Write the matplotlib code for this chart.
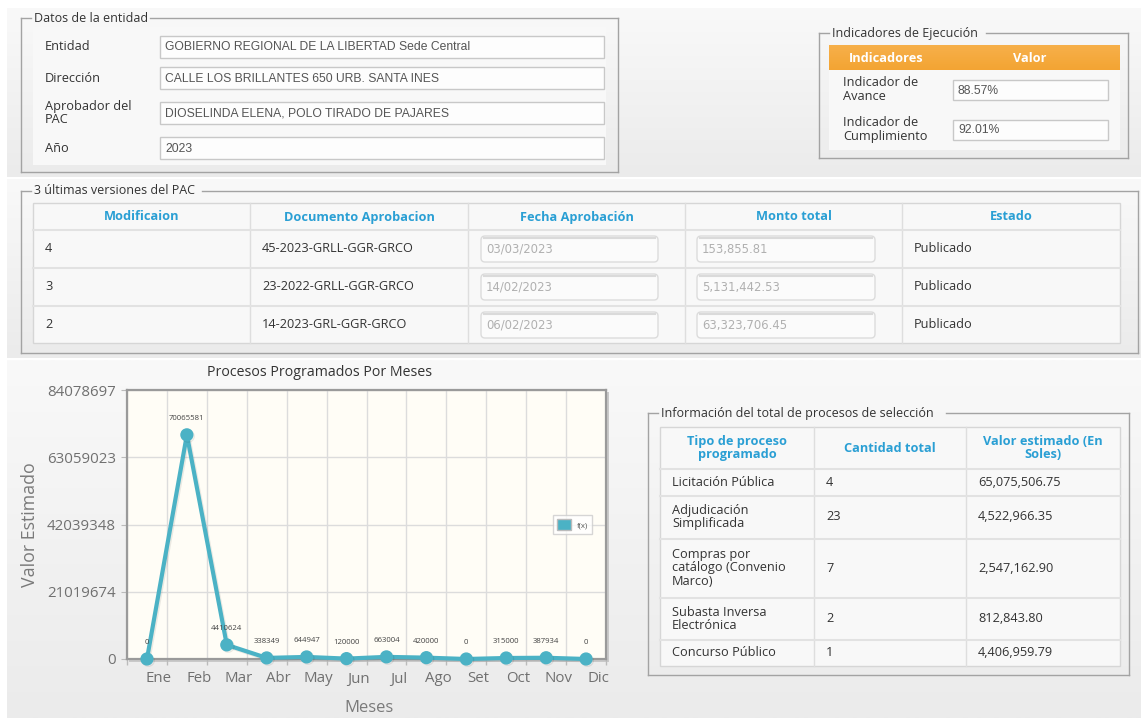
import numpy as np
import matplotlib
matplotlib.use("Agg")
import matplotlib.pyplot as plt
from matplotlib.patches import Rectangle, FancyBboxPatch, Patch
from matplotlib.colors import LinearSegmentedColormap
import matplotlib.patheffects as pe
from matplotlib import font_manager

# ---------------- data ----------------
entidad_labels = ["Entidad", "Dirección", "Aprobador del\nPAC", "Año"]
entidad_values = ["GOBIERNO REGIONAL DE LA LIBERTAD Sede Central",
                  "CALLE LOS BRILLANTES 650 URB. SANTA INES",
                  "DIOSELINDA ELENA, POLO TIRADO DE PAJARES",
                  "2023"]

indicador_labels = ["Indicador de\nAvance", "Indicador de\nCumplimiento"]
indicador_values = ["88.57%", "92.01%"]

pac_headers = ["Modificaion", "Documento Aprobacion", "Fecha Aprobación", "Monto total", "Estado"]
pac_modif = ["4", "3", "2"]
pac_doc = ["45-2023-GRLL-GGR-GRCO", "23-2022-GRLL-GGR-GRCO", "14-2023-GRL-GGR-GRCO"]
pac_fecha = ["03/03/2023", "14/02/2023", "06/02/2023"]
pac_monto = ["153,855.81", "5,131,442.53", "63,323,706.45"]
pac_estado = ["Publicado", "Publicado", "Publicado"]

meses = ["Ene", "Feb", "Mar", "Abr", "May", "Jun", "Jul", "Ago", "Set", "Oct", "Nov", "Dic"]
valores = [0, 70065581, 4410624, 338349, 644947, 120000, 663004, 420000, 0, 315000, 387934, 0]
y_ticks = [0, 21019674, 42039348, 63059023, 84078697]

tipo_headers = ["Tipo de proceso\nprogramado", "Cantidad total", "Valor estimado (En\nSoles)"]
tipo_proceso = ["Licitación Pública", "Adjudicación\nSimplificada", "Compras por\ncatálogo (Convenio\nMarco)",
                "Subasta Inversa\nElectrónica", "Concurso Público"]
tipo_cantidad = ["4", "23", "7", "2", "1"]
tipo_valor = ["65,075,506.75", "4,522,966.35", "2,547,162.90", "812,843.80", "4,406,959.79"]

# ---------------- fonts ----------------
avail = {f.name for f in font_manager.fontManager.ttflist}
MAIN = "Open Sans" if "Open Sans" in avail else "DejaVu Sans"
NARROW = "Liberation Sans Narrow" if "Liberation Sans Narrow" in avail else "Liberation Sans"
plt.rcParams['font.family'] = [MAIN, 'DejaVu Sans']

W, H = 1141, 718
fig = plt.figure(figsize=(W / 100, H / 100), dpi=100)
fig.patch.set_facecolor("white")
page = fig.add_axes([0, 0, 1, 1])
page.axis("off")

BLUE = "#2a9fd4"
BORDER = "#a3a3a3"
TXT = "#333333"


def rect(x0, y0, x1, y1, fc="none", ec="none", lw=1.0, z=1, r=0):
    if r:
        p = FancyBboxPatch((x0, y0), x1 - x0, y1 - y0, boxstyle=f"round,pad=0,rounding_size={r}",
                           fc=fc, ec=ec, lw=lw, zorder=z)
    else:
        p = Rectangle((x0, y0), x1 - x0, y1 - y0, fc=fc, ec=ec, lw=lw, zorder=z)
    page.add_patch(p)
    return p


def txt(x, y, s, size=9.5, color=TXT, ha="left", va="center", weight="normal", family=None, z=5, ls=1.0):
    kw = {}
    if family:
        kw["family"] = family
    page.text(x, y, s, fontsize=size, color=color, ha=ha, va=va, weight=weight, zorder=z,
              linespacing=ls, **kw)


def panel(x0, y0, x1, y1, top="#f9f9f9", bot="#ebebeb"):
    cmap = LinearSegmentedColormap.from_list("g", [top, bot])
    page.imshow(np.linspace(0, 1, 200).reshape(-1, 1), cmap=cmap, extent=(x0, x1, y1, y0),
                aspect="auto", zorder=0, interpolation="bilinear")


def fieldset(x0, y0, x1, y1, title, gap_end):
    kw = dict(color=BORDER, lw=1, zorder=2)
    page.plot([x0, x0 + 10], [y0, y0], **kw)
    page.plot([gap_end, x1], [y0, y0], **kw)
    page.plot([x0, x0], [y0, y1], **kw)
    page.plot([x1, x1], [y0, y1], **kw)
    page.plot([x0, x1], [y1, y1], **kw)
    txt(x0 + 13, y0, title, size=9, color=TXT)


def inputbox(x0, y0, x1, y1, s, color="#555555", disabled=False):
    if disabled:
        rect(x0, y0, x1, y1, fc="#fbfbfb", ec="#dcdcdc", lw=1, z=3, r=4)
        page.plot([x0 + 3, x1 - 3], [y0 + 1.5, y0 + 1.5], color="#dadada", lw=1.5, zorder=4)
        txt(x0 + 5, (y0 + y1) / 2 + 0.5, s, size=8.4, color=color, family=["DejaVu Sans"])
    else:
        rect(x0, y0, x1, y1, fc="#fdfdfd", ec="#c8c8c8", lw=1, z=3)
        txt(x0 + 5, (y0 + y1) / 2 + 0.5, s, size=8.7, color=color, family=[NARROW, "DejaVu Sans"])


# ---------------- page panels ----------------
panel(7, 8, W, 177)
panel(7, 179, W, 358)
panel(7, 360, W, H)

# ---- Datos de la entidad ----
fieldset(21, 18, 618, 172, "Datos de la entidad", 150)
rect(33, 27, 606, 165, fc="#f8f8f8", z=1)
ent_y = [47, 78, 113, 148]
for lab, val, yc in zip(entidad_labels, entidad_values, ent_y):
    txt(45, yc, lab, size=9.2, ls=1.05)
    inputbox(160, yc - 11, 604, yc + 11, val)

# ---- Indicadores de Ejecución ----
fieldset(819, 33, 1128, 158, "Indicadores de Ejecución", 986)
rect(829, 45, 1120, 150, fc="#f8f8f8", z=1)
cm_or = LinearSegmentedColormap.from_list("o", ["#f7b04a", "#f3a433"])
page.imshow(np.linspace(0, 1, 50).reshape(-1, 1), cmap=cm_or, extent=(829, 1120, 70, 45),
            aspect="auto", zorder=2)
txt(886, 58, "Indicadores", size=9.2, color="white", ha="center", weight="bold")
txt(1030, 58, "Valor", size=9.2, color="white", ha="center", weight="bold")
for lab, val, yc in zip(indicador_labels, indicador_values, [90, 129.5]):
    txt(843, yc, lab, size=9.2, ls=1.1)
    inputbox(953, yc - 10, 1108, yc + 10, val)

# ---- 3 últimas versiones del PAC ----
fieldset(21, 191, 1138, 353, "3 últimas versiones del PAC", 202)
rect(33, 203, 1120, 343, fc="#f8f8f8", ec="#d6d6d6", lw=1, z=1)
cols = [33, 250, 468, 685, 902, 1120]
for c in cols[1:-1]:
    page.plot([c, c], [203, 343], color="#dedede", lw=1, zorder=2)
for r_ in [230, 268, 306]:
    page.plot([33, 1120], [r_, r_], color="#e2e2e2", lw=1.5, zorder=2)
for i, h in enumerate(pac_headers):
    txt((cols[i] + cols[i + 1]) / 2, 217, h, size=9.2, color=BLUE, ha="center", weight="bold")
row_c = [249, 287, 325]
for i, yc in enumerate(row_c):
    txt(45, yc, pac_modif[i], size=9.2)
    txt(262, yc, pac_doc[i], size=9.2)
    inputbox(481, yc - 13, 658, yc + 13, pac_fecha[i], color="#b0b0b0", disabled=True)
    inputbox(697, yc - 13, 875, yc + 13, pac_monto[i], color="#b0b0b0", disabled=True)
    txt(914, yc, pac_estado[i], size=9.2)

# ---- Información del total de procesos de selección ----
fieldset(648, 413, 1129, 675, "Información del total de procesos de selección", 946)
rect(660, 427, 1120, 666, fc="#f8f8f8", ec="#d6d6d6", lw=1, z=1)
tcols = [660, 814, 966, 1120]
for c in tcols[1:-1]:
    page.plot([c, c], [427, 666], color="#dedede", lw=1, zorder=2)
for r_ in [469, 496, 539, 598, 640]:
    page.plot([660, 1120], [r_, r_], color="#e2e2e2", lw=1.5, zorder=2)
for i, h in enumerate(tipo_headers):
    txt((tcols[i] + tcols[i + 1]) / 2, 448, h, size=9.2, color=BLUE, ha="center", weight="bold", ls=1.05)
trow_c = [482, 517, 568, 619, 653]
for i, yc in enumerate(trow_c):
    txt(672, yc, tipo_proceso[i], size=9.2, ls=1.05)
    txt(826, yc, tipo_cantidad[i], size=9.2)
    txt(978, yc, tipo_valor[i], size=9.2)

page.set_xlim(0, W)
page.set_ylim(H, 0)

# ---------------- chart ----------------
PL, PR, PT, PB = 127, 606, 390, 659
rect(PL + 2, PT + 2, PR + 3, PB + 3, fc="#c9c9c9", z=1)
ax = fig.add_axes([PL / W, 1 - PB / H, (PR - PL) / W, (PB - PT) / H])
ax.set_facecolor("#fffdf6")
x = np.arange(len(meses))
ax.set_xlim(-0.5, len(meses) - 0.5)
ax.set_ylim(y_ticks[0], y_ticks[-1])
ax.set_yticks(y_ticks)
ax.set_yticklabels([str(v) for v in y_ticks])
ax.set_xticks(np.arange(-0.5, len(meses), 1.0))
ax.set_xticklabels([])
ax.set_xticks(x + 0.3, minor=True)
ax.set_xticklabels(meses, minor=True)
ax.tick_params(axis="x", which="major", length=4, color="#bbbbbb", width=1)
ax.tick_params(axis="x", which="minor", length=0, pad=9, labelsize=10.8, labelcolor="#707070")
ax.tick_params(axis="y", length=4, color="#bbbbbb", pad=4, labelsize=10.8, labelcolor="#707070")
ax.grid(True, which="major", color="#dcdcdc", lw=1)
ax.set_axisbelow(True)
for s in ax.spines.values():
    s.set_color("#9a9a9a")
    s.set_linewidth(1.6)

line, = ax.plot(x, valores, color="#4bb2c5", lw=3, marker="o", ms=8.5, zorder=5, label="f(x)",
                clip_on=False,
                path_effects=[pe.SimpleLineShadow(offset=(1, -1), shadow_color="black", alpha=0.08),
                              pe.Normal()])
for xi, v in zip(x, valores):
    ax.annotate(str(v), (xi, v), xytext=(0, 9), textcoords="offset points", ha="center",
                va="bottom", fontsize=5.6, color="#444444", zorder=6)

ax.text((320 - PL) / (PR - PL), 1 + (PT - 373) / (PB - PT), "Procesos Programados Por Meses",
        transform=ax.transAxes, ha="center", va="center", fontsize=10.2, color="#333333")
ax.set_ylabel("Valor Estimado", fontsize=12.8, color="#7a7a7a", va="center")
ax.yaxis.set_label_coords((30 - PL) / (PR - PL), 0.5)
ax.set_xlabel("Meses", fontsize=12, color="#7a7a7a", va="center")
ax.xaxis.set_label_coords((369 - PL) / (PR - PL), -(708 - PB) / (PB - PT))

leg = ax.legend(handles=[Patch(facecolor="#4bb2c5", edgecolor="#bbbbbb", label="f(x)")],
                loc="center right", bbox_to_anchor=(0.978, 0.5), fontsize=5.6, frameon=True,
                fancybox=False, handlelength=1.8, handleheight=1.8, borderpad=0.45, handletextpad=0.8,
                labelcolor="#555555")
leg.get_frame().set_edgecolor("#cccccc")
leg.get_frame().set_linewidth(1)
leg.get_frame().set_facecolor("white")

fig.savefig("out.png", dpi=100)
